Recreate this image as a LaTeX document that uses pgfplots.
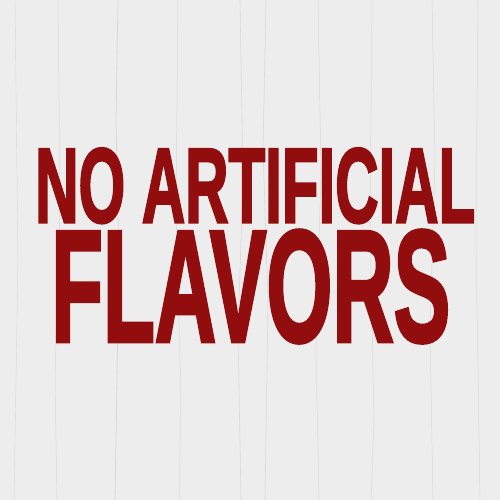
\documentclass[border=0pt]{standalone}
\usepackage{pgfplots}
\pgfplotsset{compat=1.18}
\usepackage{fontspec}
\setmainfont{Liberation Sans}
\newfontfamily\heavy[FakeBold=2.5]{Liberation Sans Bold}
\definecolor{txtred}{RGB}{146,14,14}
\definecolor{bgwood}{RGB}{237,237,237}
\definecolor{grain}{RGB}{216,216,216}
\begin{document}
\begin{tikzpicture}
\begin{axis}[
  scale only axis, width=500pt, height=500pt,
  xmin=0, xmax=500, ymin=0, ymax=500, y dir=reverse,
  hide axis, clip=true,
]
\fill[bgwood] (axis cs:0,0) rectangle (axis cs:500,500);
% faint wood grain
\addplot[grain, line width=0.8pt] coordinates {(118,0) (116,120) (119,260) (115,500)};
\addplot[grain, line width=0.6pt] coordinates {(240,0) (243,180) (238,330) (241,500)};
\addplot[grain, line width=0.6pt] coordinates {(266,0) (263,150) (268,300) (265,500)};
\addplot[grain, line width=0.5pt] coordinates {(58,0) (60,200) (55,380) (57,500)};
\addplot[grain, line width=0.5pt] coordinates {(178,0) (176,210) (181,400) (179,500)};
\addplot[grain, line width=0.5pt] coordinates {(318,0) (321,170) (316,350) (319,500)};
\addplot[grain, line width=0.5pt] coordinates {(372,0) (370,220) (374,420) (371,500)};
\addplot[grain, line width=0.5pt] coordinates {(432,0) (435,160) (430,330) (433,500)};
\addplot[grain, line width=0.5pt] coordinates {(478,0) (476,240) (480,500)};
\addplot[grain, line width=0.4pt] coordinates {(15,0) (18,260) (14,500)};
\node[anchor=north west, inner sep=0pt, text=txtred] at (axis cs:35,148)
  {\resizebox{440pt}{74pt}{\heavy NO ARTIFICIAL}};
\node[anchor=north west, inner sep=0pt, text=txtred] at (axis cs:51,230)
  {\resizebox{399pt}{111pt}{\heavy FLAVORS}};
\end{axis}
\end{tikzpicture}
\end{document}
